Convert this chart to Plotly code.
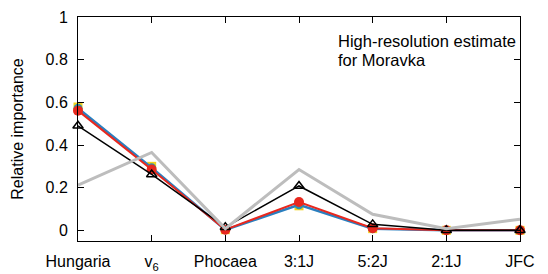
import plotly.graph_objects as go

categories = ["Hungaria", "v<sub>6</sub>", "Phocaea", "3:1J", "5:2J", "2:1J", "JFC"]
yellow_sq = [0.578, 0.300, 0.003, 0.115, 0.008, 0.000, 0.000]
blue_vals = [0.572, 0.293, 0.002, 0.120, 0.008, 0.000, 0.000]
red_vals = [0.561, 0.285, 0.003, 0.133, 0.010, 0.000, 0.000]
black_vals = [0.490, 0.262, 0.015, 0.208, 0.028, 0.000, 0.000]
gray_vals = [0.212, 0.365, 0.008, 0.285, 0.075, 0.008, 0.052]
yticks = [0, 0.2, 0.4, 0.6, 0.8, 1]
ytick_text = ["0", "0.2", "0.4", "0.6", "0.8", "1"]
note_lines = ["High-resolution estimate", "for Moravka"]

xs = list(range(len(categories)))
font = "Liberation Sans, Arial, Helvetica, sans-serif"

fig = go.Figure()
fig.add_trace(go.Scatter(x=xs, y=yellow_sq, mode="markers",
                         marker=dict(symbol="square", size=9, color="#f2d21b"), cliponaxis=False))
fig.add_trace(go.Scatter(x=xs, y=blue_vals, mode="lines+markers",
                         line=dict(color="#2a7fbf", width=2.5),
                         marker=dict(symbol="circle", size=9, color="#2a8fb0"), cliponaxis=False))
fig.add_trace(go.Scatter(x=xs, y=red_vals, mode="lines+markers",
                         line=dict(color="#e8281e", width=2),
                         marker=dict(symbol="circle", size=10, color="#e8281e"), cliponaxis=False))
fig.add_trace(go.Scatter(x=xs, y=black_vals, mode="lines+markers",
                         line=dict(color="black", width=1.5),
                         marker=dict(symbol="triangle-up-open", size=9, color="black",
                                     line=dict(width=1.5)), cliponaxis=False))
fig.add_trace(go.Scatter(x=xs, y=gray_vals, mode="lines",
                         line=dict(color="#bdbdbd", width=3), cliponaxis=False))

for txt, yv in zip(note_lines, [0.886, 0.797]):
    fig.add_annotation(x=3.5, y=yv, xref="x", yref="y", xanchor="left", yanchor="middle",
                       text=txt, showarrow=False, align="left",
                       font=dict(size=16.5, color="black", family=font))

fig.update_layout(
    width=540, height=266,
    margin=dict(l=70, r=28, t=9, b=33),
    plot_bgcolor="white", paper_bgcolor="white",
    showlegend=False,
    font=dict(family=font, size=16, color="black"),
)
fig.update_xaxes(range=[0, 6], tickvals=xs, ticktext=categories, automargin=False,
                 showgrid=False, zeroline=False, showline=True, linecolor="black", linewidth=1,
                 mirror="ticks", ticks="inside", ticklen=6, tickcolor="black",
                 tickfont=dict(size=16), ticklabelstandoff=6)
fig.update_yaxes(range=[-0.05, 1], tickvals=yticks, ticktext=ytick_text, automargin=False,
                 showgrid=False, zeroline=False, showline=True, linecolor="black", linewidth=1,
                 mirror="ticks", ticks="inside", ticklen=6, tickcolor="black",
                 tickfont=dict(size=16), ticklabelstandoff=6,
                 title=dict(text="Relative importance", font=dict(size=16), standoff=17))

fig.write_html("out.html")
